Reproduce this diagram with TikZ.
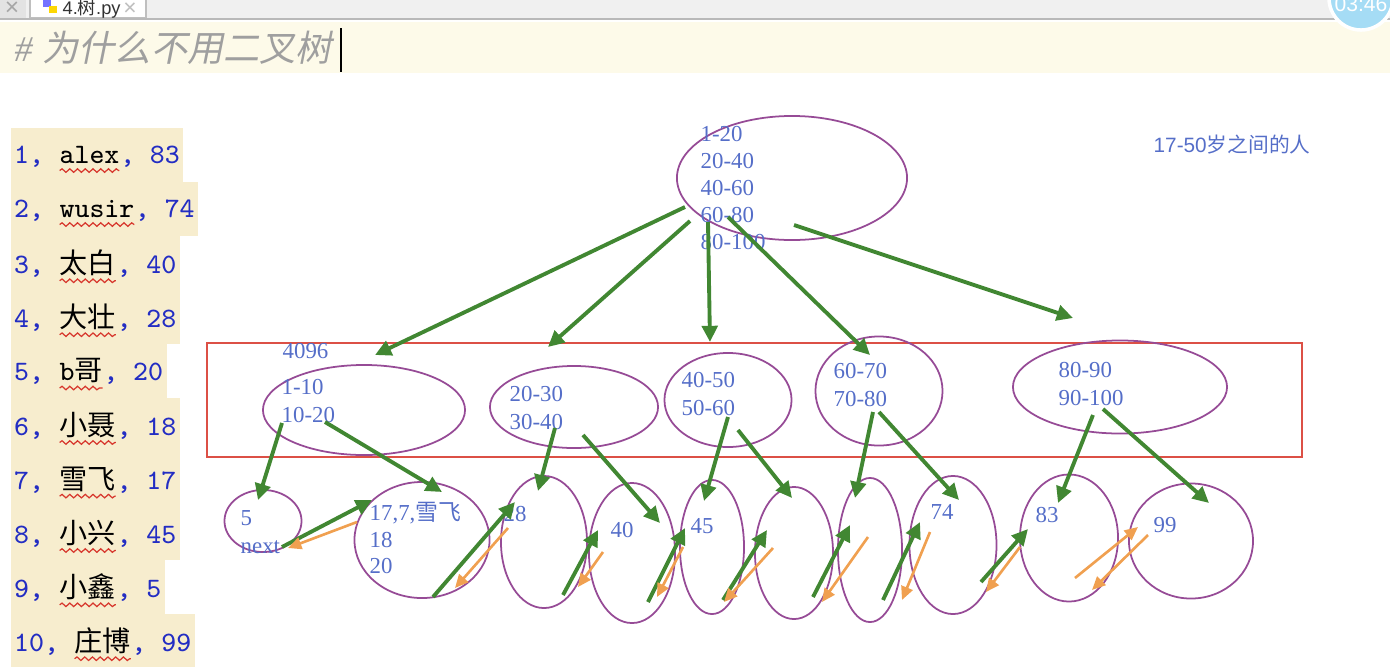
\documentclass[tikz,border=0pt]{standalone}
\usepackage{fontspec}
\setmainfont{Liberation Serif}
\setsansfont{Liberation Sans}
\newfontfamily\cjk{Noto Sans CJK SC}
\newfontfamily\cjkslant[FakeSlant=0.2]{Noto Sans CJK SC}
\usepackage{xcolor}
\usepackage{tikz}
\usetikzlibrary{shapes.geometric, arrows.meta, calc, decorations.pathmorphing}

\definecolor{labelblue}{RGB}{85,110,200}
\definecolor{nodepurple}{RGB}{150,75,150}
\definecolor{boxred}{RGB}{220,80,70}
\definecolor{linkgreen}{RGB}{65,135,50}
\definecolor{linkorange}{RGB}{240,160,80}
\definecolor{listbg}{RGB}{247,237,206}
\definecolor{listblue}{RGB}{35,45,195}
\definecolor{bandyellow}{RGB}{253,250,233}
\definecolor{barsgray}{RGB}{240,240,240}
\definecolor{clockblue}{RGB}{165,220,245}
\definecolor{wavered}{RGB}{215,55,45}

% name with the spell-check wave under it
\newcommand{\wavy}[1]{\tikz[baseline=(w.base), x=1pt, y=1pt]{%
    \node[inner sep=0pt, outer sep=0pt, text=black] (w) {#1};
    \draw[wavered, line width=0.35pt, decorate, decoration={snake, amplitude=0.5pt, segment length=2.2pt}]
        ([yshift=-2pt]w.base west) -- ([yshift=-2pt]w.base east);}}

\begin{document}
\begin{tikzpicture}[x=0.01cm, y=-0.01cm,
        bubble/.style={draw=nodepurple, line width=0.5pt, ellipse, inner sep=0pt},
        lbl/.style={text=labelblue, font=\fontsize{6.5}{7.7}\selectfont, align=left, inner sep=0pt, anchor=west},
        flow/.style={draw=linkgreen, line width=1.1pt, -{Triangle[length=4.6pt, width=4.4pt]}},
        back/.style={draw=linkorange, line width=0.75pt, -{Triangle[length=3.8pt, width=3.4pt]}},
        rowbox/.style={fill=listbg, anchor=west, minimum height=0.545cm, inner ysep=0pt, inner xsep=1pt, text=listblue, font=\ttfamily\fontsize{8}{10}\selectfont}
    ]
    \useasboundingbox (0,0) rectangle (1390,666);

    % editor chrome
    \fill[barsgray] (0,0) rectangle (1390,18);
    \fill[gray!22] (0,0) rectangle (26,18);
    \node (closeall) [inner sep=0pt, text=gray!70, font=\sffamily\fontsize{7}{7}\selectfont] at (12,9) {×};
    \draw[gray!50, fill=white] (30,-2) rectangle (146,18);
    \fill[blue!55] (43,0) rectangle (51,7);
    \fill[yellow!75!orange] (49,6) rectangle (57,13);
    \node (tabname) [anchor=west, inner sep=0pt, text=black!80, font=\sffamily\fontsize{5.2}{6}\selectfont] at (62,9) {4.{\cjk 树}.py};
    \node (tabclose) [inner sep=0pt, text=gray!50, font=\sffamily\fontsize{6.5}{7}\selectfont] at (130,9) {×};
    \draw[gray!55, line width=0.6pt] (0,19) -- (1390,19);
    \fill[bandyellow] (0,22) rectangle (1390,73);
    \node (title) [anchor=west, inner sep=0pt, text=gray!75, font=\fontsize{10.3}{12}\selectfont] at (14,48) {\textit{\#} \cjkslant 为什么不用二叉树};
    \draw[black, line width=0.8pt] (341,28) -- (341,72);
    \node (clock) [circle, fill=clockblue, draw=white, line width=1pt, inner sep=0pt, minimum size=0.64cm] at (1361,-2) {};
    \node (clocktime) [inner sep=0pt, text=white, font=\sffamily\fontsize{6}{6}\selectfont] at (1361,4) {03:46};

    % the table rows
    \foreach \n/\who/\age in {1/alex/83, 2/wusir/74, 3/{\cjk 太白}/40, 4/{\cjk 大壮}/28, 5/b{\cjk 哥}/20,
            6/{\cjk 小聂}/18, 7/{\cjk 雪飞}/17, 8/{\cjk 小兴}/45, 9/{\cjk 小鑫}/5, 10/{\cjk 庄博}/99}
        \node (row\n) [rowbox] at (10,101+54*\n) {\n, \wavy{\who}, \age};

    % index nodes
    \node (root) [bubble, minimum width=2.30cm, minimum height=1.24cm] at (792,178) {};
    \node (rootkeys) [lbl] at (700,188) {1-20\\20-40\\40-60\\60-80\\80-100};
    \node (note) [anchor=west, inner sep=0pt, text=labelblue, font=\sffamily\fontsize{5.9}{7}\selectfont] at (1153,145) {17-50{\cjk 岁之间的人}};

    \node (level) [draw=boxred, line width=0.5pt, minimum width=10.95cm, minimum height=1.14cm] at (754.5,400) {};
    \node (page) [lbl] at (282,351) {4096};
    \node (a) [bubble, minimum width=2.02cm, minimum height=0.90cm] at (364,410) {};
    \node (b) [bubble, minimum width=1.68cm, minimum height=0.82cm] at (574,407) {};
    \node (c) [bubble, minimum width=1.27cm, minimum height=0.94cm] at (728,400) {};
    \node (d) [bubble, minimum width=1.27cm, minimum height=1.09cm] at (879,391) {};
    \node (e) [bubble, minimum width=2.14cm, minimum height=0.93cm] at (1120,387) {};
    \node (akeys) [lbl] at (281,401) {1-10\\10-20};
    \node (bkeys) [lbl] at (509,408) {20-30\\30-40};
    \node (ckeys) [lbl] at (681,394) {40-50\\50-60};
    \node (dkeys) [lbl] at (833,385) {60-70\\70-80};
    \node (ekeys) [lbl] at (1058,384) {80-90\\90-100};

    % leaves
    \node (leaf1) [bubble, minimum width=0.77cm, minimum height=0.62cm] at (263,521) {};
    \node (leaf2) [bubble, minimum width=1.35cm, minimum height=1.16cm] at (422,540) {};
    \node (leaf3) [bubble, minimum width=0.86cm, minimum height=1.32cm] at (544,542) {};
    \node (leaf4) [bubble, minimum width=0.86cm, minimum height=1.40cm] at (632,553) {};
    \node (leaf5) [bubble, minimum width=0.64cm, minimum height=1.34cm] at (712,547) {};
    \node (leaf6) [bubble, minimum width=0.78cm, minimum height=1.32cm] at (794,553) {};
    \node (leaf7) [bubble, minimum width=0.64cm, minimum height=1.44cm] at (870,550) {};
    \node (leaf8) [bubble, minimum width=0.87cm, minimum height=1.38cm] at (953,545) {};
    \node (leaf9) [bubble, minimum width=0.98cm, minimum height=1.27cm] at (1069,538) {};
    \node (leaf10) [bubble, minimum width=1.24cm, minimum height=1.15cm] at (1191,541) {};
    \node (v5) [lbl] at (240,518) {5};
    \node (nxt) [lbl] at (240,547) {next};
    \node (v17) [lbl, font=\fontsize{6.5}{7.5}\selectfont] at (369,538) {17,7,{\cjk 雪飞}\\18\\20};
    \node (v28) [lbl] at (503,514) {28};
    \node (v40) [lbl] at (610,530) {40};
    \node (v45) [lbl] at (690,526) {45};
    \node (v74) [lbl] at (930,512) {74};
    \node (v83) [lbl] at (1035,515) {83};
    \node (v99) [lbl] at (1153,525) {99};

    % root to second level
    \draw [flow] ($(root)+(-107,29)$) -- ($(a)+(11,-55)$);
    \draw [flow] ($(root)+(-102,43)$) -- ($(b)+(-26,-60)$);
    \draw [flow] ($(root)+(-84,44)$) -- ($(c)+(-18,-58)$);
    \draw [flow] ($(root)+(-64,39)$) -- ($(d)+(-9,-36)$);
    \draw [flow] ($(root)+(2,47)$) -- ($(e)+(-47,-69)$);

    % second level to leaves
    \draw [flow] ($(a)+(-82,13)$) -- ($(leaf1)+(-5,-21)$);
    \draw [flow] ($(a)+(-39,12)$) -- ($(leaf2)+(20,-48)$);
    \draw [flow] ($(b)+(-19,21)$) -- ($(leaf3)+(-6,-51)$);
    \draw [flow] ($(b)+(9,28)$) -- ($(leaf4)+(28,-30)$);
    \draw [flow] ($(c)+(0,17)$) -- ($(leaf5)+(-8,-46)$);
    \draw [flow] ($(c)+(10,30)$) -- ($(leaf6)+(-2,-55)$);
    \draw [flow] ($(d)+(-6,21)$) -- ($(leaf7)+(-15,-52)$);
    \draw [flow] ($(d)+(0,21)$) -- ($(leaf8)+(6,-45)$);
    \draw [flow] ($(e)+(-27,28)$) -- ($(leaf9)+(-11,-35)$);
    \draw [flow] ($(e)+(-17,22)$) -- ($(leaf10)+(18,-38)$);

    % leaf links
    \draw [flow] ($(leaf1)+(19,26)$) -- ($(leaf2)+(-50,-40)$);
    \draw [back] ($(leaf2)+(-65,-18)$) -- ($(leaf1)+(25,27)$);
    \draw [flow] ($(leaf2)+(11,57)$) -- ($(leaf3)+(-29,-40)$);
    \draw [back] ($(leaf3)+(-36,-14)$) -- ($(leaf2)+(33,48)$);
    \draw [flow] ($(leaf3)+(19,53)$) -- ($(leaf4)+(-34,-23)$);
    \draw [back] ($(leaf4)+(-29,-1)$) -- ($(leaf3)+(34,45)$);
    \draw [flow] ($(leaf4)+(16,49)$) -- ($(leaf5)+(-27,-19)$);
    \draw [back] ($(leaf5)+(-29,0)$) -- ($(leaf4)+(25,44)$);
    \draw [flow] ($(leaf5)+(11,53)$) -- ($(leaf6)+(-27,-23)$);
    \draw [back] ($(leaf6)+(-21,-5)$) -- ($(leaf5)+(12,55)$);
    \draw [flow] ($(leaf6)+(19,44)$) -- ($(leaf7)+(-20,-25)$);
    \draw [back] ($(leaf7)+(-2,-13)$) -- ($(leaf6)+(28,49)$);
    \draw [flow] ($(leaf7)+(13,50)$) -- ($(leaf8)+(-33,-23)$);
    \draw [back] ($(leaf8)+(-23,-13)$) -- ($(leaf7)+(32,50)$);
    \draw [flow] ($(leaf8)+(28,37)$) -- ($(leaf9)+(-41,-9)$);
    \draw [back] ($(leaf9)+(-49,9)$) -- ($(leaf8)+(33,47)$);
    \draw [back] ($(leaf9)+(6,40)$) -- ($(leaf10)+(-53,-14)$);
    \draw [back] ($(leaf10)+(-43,-6)$) -- ($(leaf9)+(23,52)$);
\end{tikzpicture}
\end{document}
